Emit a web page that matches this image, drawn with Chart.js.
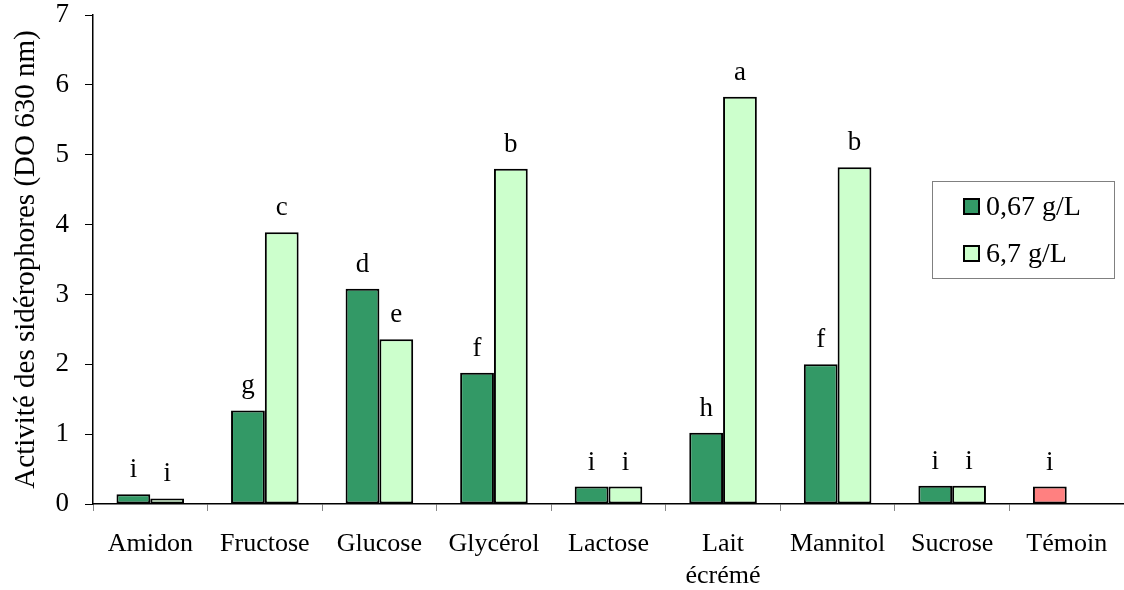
<!DOCTYPE html>
<html>
<head>
<meta charset="utf-8">
<script src="https://cdn.jsdelivr.net/npm/chart.js@4"></script>
<style>
  html, body { margin: 0; padding: 0; background: #fff; }
  #wrap { width: 1124px; height: 590px; }
</style>
</head>
<body>
<div id="wrap"><canvas id="chart" width="1124" height="590"></canvas></div>
<script>
// data
const categories = ["Amidon", "Fructose", "Glucose", "Glycérol", "Lactose", ["Lait", "écrémé"], "Mannitol", "Sucrose", "Témoin"];
const seriesNames = ["0,67 g/L", "6,7 g/L"];
const low = [0.14, 1.34, 3.08, 1.88, 0.25, 1.02, 2.0, 0.26, 0.25];
const high = [0.08, 3.89, 2.36, 4.80, 0.25, 5.83, 4.82, 0.26, null];
const lowLetters = ["i", "g", "d", "f", "i", "h", "f", "i", "i"];
const highLetters = ["i", "c", "e", "b", "i", "a", "b", "i", ""];
const yTicks = [0, 1, 2, 3, 4, 5, 6, 7];

const darkGreen = "#339966";
const lightGreen = "#CCFFCC";
const pink = "#FF8080";
const serif = "'Liberation Serif', 'Times New Roman', serif";

// Témoin (control) is drawn in pink in the first slot
const lowColors = categories.map((c, i) => i === categories.length - 1 ? pink : darkGreen);

// letters over each bar
const letterPlugin = {
  id: "letters",
  afterDatasetsDraw(chart) {
    const ctx = chart.ctx;
    ctx.save();
    ctx.fillStyle = "#000";
    ctx.font = "27px " + serif;
    ctx.textAlign = "center";
    ctx.textBaseline = "alphabetic";
    [lowLetters, highLetters].forEach((letters, d) => {
      chart.getDatasetMeta(d).data.forEach((bar, i) => {
        if (!letters[i] || chart.data.datasets[d].data[i] == null) return;
        ctx.fillText(letters[i], bar.x, bar.y - 17);
      });
    });
    ctx.restore();
  }
};

// boxed legend at the right
const legendPlugin = {
  id: "boxLegend",
  afterDraw(chart) {
    const ctx = chart.ctx;
    ctx.save();
    ctx.strokeStyle = "#808080";
    ctx.lineWidth = 1;
    ctx.strokeRect(932.5, 181.5, 182, 97);
    const fills = [darkGreen, lightGreen];
    ctx.font = "28px " + serif;
    ctx.textBaseline = "middle";
    seriesNames.forEach((name, i) => {
      const y = 207 + i * 47;
      ctx.fillStyle = fills[i];
      ctx.fillRect(964, y - 8, 15, 15);
      ctx.strokeStyle = "#000";
      ctx.lineWidth = 2;
      ctx.strokeRect(964, y - 8, 15, 15);
      ctx.fillStyle = "#000";
      ctx.fillText(name, 986, y + 1);
    });
    ctx.restore();
  }
};

new Chart(document.getElementById("chart").getContext("2d"), {
  type: "bar",
  data: {
    labels: categories,
    datasets: [
      { label: seriesNames[0], data: low, backgroundColor: lowColors, borderColor: "#000", borderWidth: 2, borderSkipped: false },
      { label: seriesNames[1], data: high, backgroundColor: lightGreen, borderColor: "#000", borderWidth: 2, borderSkipped: false }
    ]
  },
  options: {
    responsive: false,
    animation: false,
    layout: { padding: 0 },
    datasets: { bar: { categoryPercentage: 0.59, barPercentage: 1.0 } },
    plugins: {
      legend: { display: false },
      tooltip: { enabled: false }
    },
    scales: {
      x: {
        offset: true,
        grid: { display: true, offset: true, drawOnChartArea: false, drawTicks: true, tickLength: 7, color: "#888", lineWidth: 1 },
        border: { color: "#000", width: 1.5 },
        ticks: { color: "#000", font: { family: serif, size: 26 }, padding: 18, maxRotation: 0, autoSkip: false },
        afterFit(s) { s.height = 86; s.paddingLeft = 0; s.paddingRight = 0; }
      },
      y: {
        min: 0,
        max: 7,
        afterBuildTicks(s) { s.ticks = yTicks.map(v => ({ value: v })); },
        grid: { display: true, drawOnChartArea: false, drawTicks: true, tickLength: 8, color: "#000", lineWidth: 1 },
        border: { color: "#000", width: 1.5 },
        ticks: { color: "#000", font: { family: serif, size: 27 }, padding: 16 },
        title: { display: true, text: "Activité des sidérophores (DO 630 nm)", color: "#000", font: { family: serif, size: 29, lineHeight: 1.1 }, padding: { top: 10, bottom: 0 } },
        afterFit(s) { s.width = 93; s.paddingTop = 15; s.paddingBottom = 0; }
      }
    }
  },
  plugins: [letterPlugin, legendPlugin]
});
</script>
</body>
</html>
